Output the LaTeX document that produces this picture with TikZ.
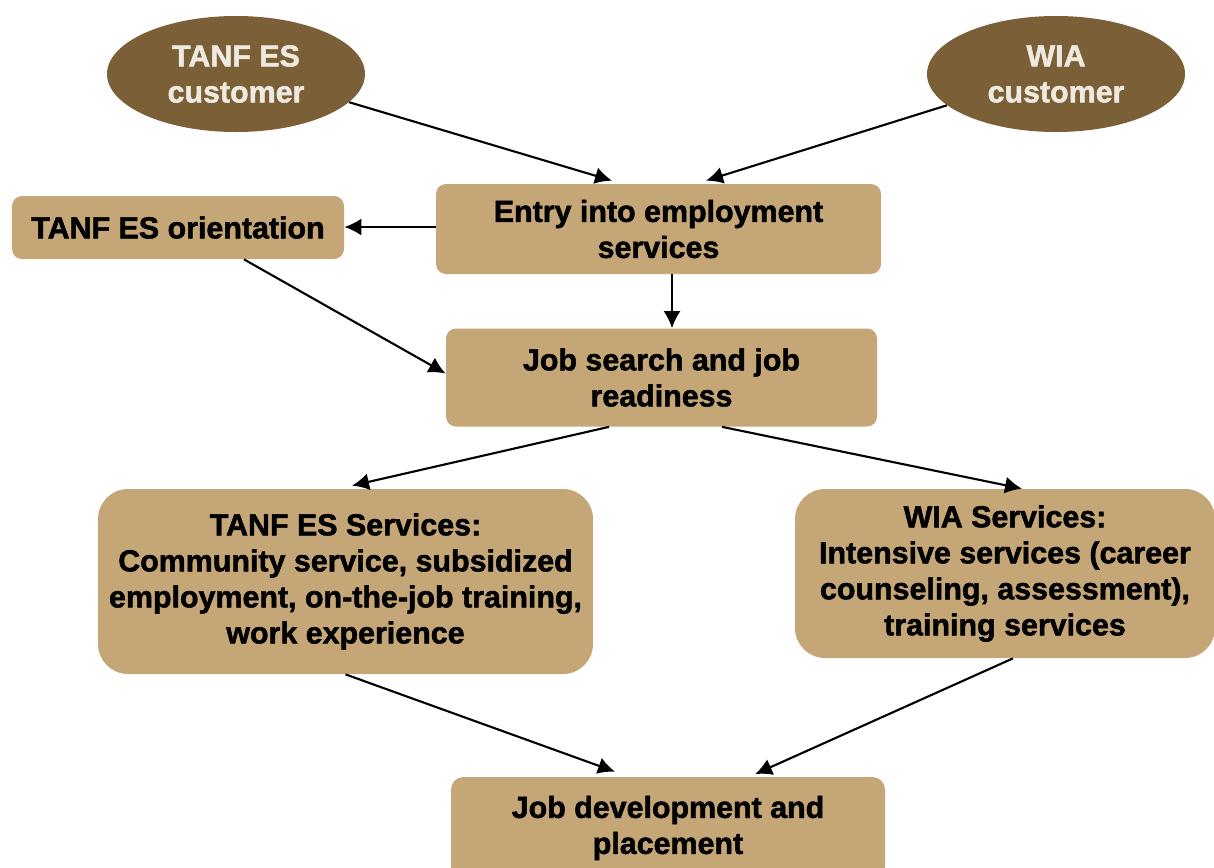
\documentclass[tikz,border=0pt]{standalone}
\usepackage{fontspec}
\setmainfont{Liberation Sans}[BoldFeatures={FakeBold=1.6}]
\usetikzlibrary{shapes.geometric,arrows.meta}
\definecolor{custbrown}{HTML}{7B5F37}
\definecolor{custtext}{HTML}{EEEAE0}
\definecolor{boxtan}{HTML}{C5A677}
\begin{document}
\begin{tikzpicture}[font=\fontsize{17.3}{20.5}\selectfont\bfseries,
  cust/.style={ellipse,fill=custbrown,text=custtext,minimum width=5.16cm,minimum height=2.32cm,align=center,inner sep=0pt},
  stage/.style={rectangle,fill=boxtan,rounded corners=0.2cm,align=center,inner sep=0pt},
  flow/.style={-{Latex[length=0.34cm,width=0.34cm]},line width=1.2pt}]
\useasboundingbox (0,0) rectangle (24.28,-17.34);
\node[cust](tanfc) at (4.72,-1.48){TANF ES\\customer};
\node[cust](wiac) at (21.12,-1.48){WIA\\customer};
\node[stage,minimum width=8.9cm,minimum height=1.8cm](entry) at (13.17,-4.58){Entry into employment\\services};
\node[stage,minimum width=6.64cm,minimum height=1.26cm](orient) at (3.56,-4.55){TANF ES orientation};
\node[stage,minimum width=8.62cm,minimum height=1.96cm](search) at (13.23,-7.55){Job search and job\\readiness};
\node[stage,rounded corners=0.6cm,minimum width=9.9cm,minimum height=3.7cm](tanfs) at (6.91,-11.63){TANF ES Services:\\Community service, subsidized\\employment, on-the-job training,\\work experience};
\node[stage,rounded corners=0.6cm,minimum width=8.4cm,minimum height=3.38cm](wias) at (20.1,-11.47){WIA Services:\\Intensive services (career\\counseling, assessment),\\training services};
\node[stage,rounded corners=0.25cm,minimum width=8.68cm,minimum height=2.04cm](jobdev) at (13.36,-16.56){Job development and\\placement};
% connectors
\draw[flow](tanfc.-14)--([xshift=-0.93cm,yshift=0.06cm]entry.north);
\draw[flow](wiac.196)--([xshift=0.95cm,yshift=0.06cm]entry.north);
\draw[flow]([yshift=0.04cm]entry.west)--([yshift=0.04cm]entry.west-|orient.east);
\draw[flow]([xshift=0.27cm]entry.south)--([xshift=0.27cm]entry.south|-search.north);
\draw[flow]([xshift=1.32cm]orient.south)--([yshift=0.08cm]search.west);
\draw[flow]([xshift=-1.05cm]search.south)--([xshift=0.13cm,yshift=0.06cm]tanfs.north);
\draw[flow]([xshift=1.21cm]search.south)--([xshift=0.34cm]wias.north);
\draw[flow](tanfs.south)--([xshift=-1.06cm,yshift=0.1cm]jobdev.north);
\draw[flow]([xshift=0.16cm]wias.south)--([xshift=1.74cm,yshift=0.05cm]jobdev.north);
\end{tikzpicture}
\end{document}
